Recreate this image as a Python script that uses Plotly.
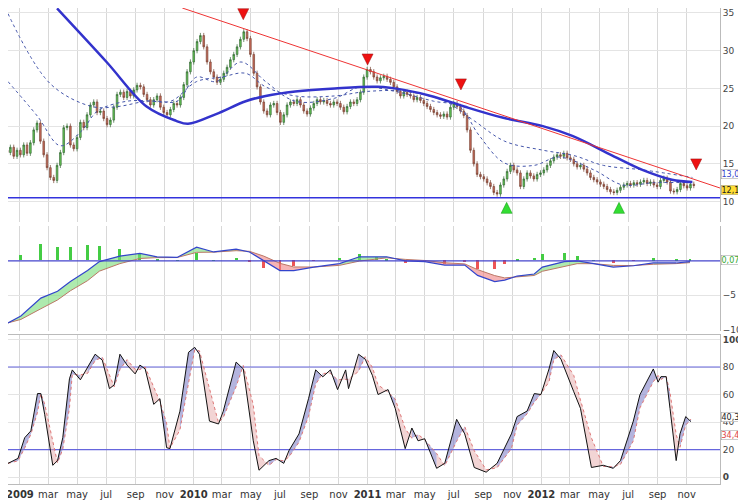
import pandas as pd
import plotly.graph_objects as go

# weekly closes, Dec 2008 .. Nov 2012
closes = [
    16.5, 17.2, 16.0, 16.8,
    16.2, 17.5, 16.4, 17.8, 19.5, 20.4, 18.0, 16.2, 14.5, 13.2, 12.8, 14.8, 16.5,
    19.8, 20.0, 17.5, 17.0, 18.5, 20.5, 19.8, 21.5, 22.8, 23.2, 21.8, 22.0, 21.0,
    20.2, 20.8, 22.5, 24.2, 24.5, 23.8, 24.6, 24.0, 24.8, 25.4, 25.2, 24.2, 23.5,
    22.8, 23.5, 24.0, 22.5, 21.8, 21.5, 22.2, 23.0, 22.8, 23.8, 25.5, 27.2, 28.5,
    30.0, 31.2, 32.0, 30.5, 28.5, 27.2, 26.5, 25.8, 26.2, 27.0, 27.8, 28.8, 29.5,
    30.5, 31.5, 32.5, 31.6, 29.5, 27.0, 25.2, 23.2, 22.0, 21.5, 22.8, 23.0, 21.8,
    20.5, 21.5, 22.8, 23.2, 23.0, 23.5, 22.8, 22.0, 21.6, 22.4, 23.0, 23.5, 23.2,
    23.4, 23.0, 22.8, 23.2, 23.0, 22.5, 21.9, 22.6, 23.2, 23.0, 23.5, 24.5, 26.5, 27.5,
    27.2, 26.5, 26.0, 26.4, 26.6, 26.2, 25.8, 25.2, 24.6, 24.0, 24.5, 24.2,
    24.0, 23.5, 23.8, 23.4, 23.0, 22.6, 22.2, 21.8, 21.5, 21.3, 21.6, 21.2, 22.5,
    23.0, 22.6, 22.0, 21.4, 19.5, 16.8, 15.0, 13.6, 13.3, 13.0, 12.5, 12.0, 11.2, 11.0,
    12.2, 13.0, 14.0, 14.8, 14.2, 13.8, 12.0, 13.0, 13.8, 13.4, 13.0, 13.6, 13.8,
    14.2, 14.8, 15.4, 15.9, 16.2, 16.0, 16.4, 15.8, 15.6, 15.0, 14.6, 14.8, 14.3,
    13.8, 13.2, 12.9, 12.6, 12.3, 12.0, 11.6, 11.3, 11.2, 11.5, 11.9, 12.2, 12.4,
    12.2, 12.5, 12.3, 12.6, 12.8, 12.4, 12.6, 12.2, 12.0, 12.8, 13.1, 12.6, 11.4,
    11.3, 11.6, 12.4, 12.1, 11.8, 12.3, 12.12,
]
first_open = 16.8

ma_long_dates = ["2009-03-20", "2009-07-02", "2009-09-24", "2009-11-25", "2009-12-20",
                 "2010-02-17", "2010-04-20", "2010-06-01", "2010-08-02", "2010-10-24",
                 "2011-01-22", "2011-03-18", "2011-05-20", "2011-07-23", "2011-10-13",
                 "2012-01-04", "2012-03-06", "2012-05-29", "2012-07-31", "2012-10-01",
                 "2012-11-13"]
ma_long = [35.6, 28.5, 22.6, 20.7, 20.3, 21.6, 23.3, 24.0, 24.6, 25.0,
           25.2, 24.8, 23.9, 22.6, 21.1, 20.0, 18.7, 16.1, 14.2, 12.9, 12.6]

ma_mid_dates = ["2008-12-07", "2009-03-06", "2009-06-01", "2009-07-26", "2009-09-24",
                "2009-11-14", "2010-01-07", "2010-03-01", "2010-04-20", "2010-06-01",
                "2010-08-02", "2010-10-24", "2011-01-01", "2011-03-21", "2011-06-12",
                "2011-08-13", "2011-10-16", "2012-01-05", "2012-03-09", "2012-05-10",
                "2012-08-01", "2012-11-13"]
ma_mid = [34.9, 25.6, 22.6, 22.6, 23.3, 23.3, 25.9, 26.5, 27.0, 25.2, 24.0,
          24.0, 24.6, 24.6, 23.3, 20.7, 18.0, 16.8, 16.1, 14.8, 14.2, 13.2]

ma_short_dates = ["2008-12-07", "2009-02-07", "2009-03-27", "2009-05-11", "2009-06-13",
                  "2009-08-14", "2009-10-16", "2009-11-27", "2010-01-07", "2010-02-17",
                  "2010-04-10", "2010-06-01", "2010-08-02", "2010-10-24", "2010-12-17",
                  "2011-02-28", "2011-05-20", "2011-07-12", "2011-08-24", "2011-10-16",
                  "2011-12-17", "2012-02-06", "2012-04-20", "2012-06-20", "2012-08-23",
                  "2012-11-13"]
ma_short = [25.9, 21.3, 17.4, 19.4, 22.0, 23.3, 23.3, 23.3, 26.5, 25.9, 28.5, 25.9, 23.3,
            23.7, 25.2, 24.6, 23.3, 22.6, 18.7, 15.1, 14.8, 15.9, 14.2, 12.2, 12.5, 12.5]

trend_dates = ["2009-12-08", "2013-01-10"]
trend_vals = [35.65, 11.8]
support_level = 10.5

sell_dates = ["2010-04-15", "2011-01-01", "2011-07-16", "2012-11-21"]
sell_vals = [34.1, 28.1, 24.8, 14.2]
buy_dates = ["2011-10-20", "2012-06-12"]
buy_vals = [9.9, 9.9]

macd_dates = ["2008-12-07", "2009-01-03", "2009-02-14", "2009-03-21", "2009-04-17",
              "2009-05-23", "2009-06-17", "2009-07-30", "2009-09-10", "2009-10-16",
              "2009-11-27", "2010-01-07", "2010-02-12", "2010-03-31", "2010-04-28",
              "2010-05-28", "2010-07-01", "2010-07-30", "2010-09-10", "2010-11-03",
              "2010-12-15", "2011-01-20", "2011-02-10", "2011-03-21", "2011-05-01",
              "2011-06-12", "2011-07-24", "2011-08-20", "2011-09-25", "2011-10-16",
              "2011-11-11", "2011-12-17", "2012-01-03", "2012-02-18", "2012-03-16",
              "2012-04-20", "2012-05-31", "2012-07-12", "2012-08-23", "2012-10-10",
              "2012-11-08"]
macd = [-9.0, -8.0, -5.4, -4.4, -3.0, -1.4, -0.1, 0.7, 1.1, 0.6, 0.5, 2.0, 1.3, 1.7,
        1.3, 0.0, -1.4, -1.4, -0.9, -0.4, 0.6, 0.6, 0.6, 0.0, -0.1, -0.6, -0.6, -2.1,
        -3.0, -2.8, -2.2, -1.9, -0.9, -0.1, 0.0, -0.4, -0.9, -0.7, -0.3, -0.3, -0.1]

stoch_dates = ["2008-12-07", "2008-12-28", "2009-01-11", "2009-01-24", "2009-02-07",
               "2009-02-14", "2009-02-22", "2009-03-11", "2009-03-21", "2009-04-01",
               "2009-04-15", "2009-04-21", "2009-05-08", "2009-05-23", "2009-06-08",
               "2009-06-23", "2009-07-08", "2009-07-18", "2009-07-30", "2009-08-14",
               "2009-08-31", "2009-09-10", "2009-09-21", "2009-10-09", "2009-10-22",
               "2009-11-05", "2009-11-12", "2009-12-03", "2009-12-21", "2010-01-03",
               "2010-01-13", "2010-02-03", "2010-02-22", "2010-03-04", "2010-03-31",
               "2010-04-15", "2010-05-06", "2010-05-18", "2010-06-08", "2010-06-23",
               "2010-07-09", "2010-07-20", "2010-08-10", "2010-08-30", "2010-09-14",
               "2010-09-29", "2010-10-15", "2010-10-30", "2010-11-16", "2010-11-22",
               "2010-12-13", "2010-12-27", "2011-01-11", "2011-01-23", "2011-02-13",
               "2011-02-28", "2011-03-21", "2011-04-04", "2011-04-17", "2011-05-01",
               "2011-05-26", "2011-06-12", "2011-07-07", "2011-07-24", "2011-08-13",
               "2011-09-07", "2011-09-30", "2011-10-30", "2011-11-11", "2011-12-02",
               "2011-12-17", "2011-12-31", "2012-01-17", "2012-01-27", "2012-02-11",
               "2012-03-09", "2012-03-23", "2012-04-15", "2012-05-10", "2012-05-31",
               "2012-06-15", "2012-07-12", "2012-07-26", "2012-08-23", "2012-09-02",
               "2012-09-08", "2012-09-19", "2012-09-27", "2012-10-10", "2012-10-18",
               "2012-10-30", "2012-11-10"]
stoch_k = [10, 13.6, 28.6, 33.6, 60.7, 60.7, 45.7, 8.6, 12, 28.6, 71.4, 77.9, 70.7, 80,
           89.3, 85, 64.3, 67, 89.3, 81.4, 75, 81.4, 78.6, 52.9, 57, 21.4, 20.7, 47.9,
           90.7, 94.3, 89.3, 40.7, 38.6, 47.9, 83.6, 78.6, 26.4, 5, 12, 13.6, 10, 19.3,
           31.4, 57, 77.9, 72.9, 77.9, 63.6, 77.9, 64.3, 89.3, 85.7, 74, 60, 63.6, 50,
           20.7, 35.7, 26.4, 27.9, 6.4, 10, 42, 31.4, 7, 3.6, 10, 31.4, 44, 48, 60.7, 60,
           78.6, 92, 85.7, 62, 50, 7, 8.6, 6.4, 12, 40.7, 60, 78.6, 69, 73, 73, 50, 12,
           31.4, 44, 40.3]

tick_dates = pd.date_range("2009-01-01", "2012-11-01", freq="2MS")
tick_names = ["mar", "may", "jul", "sep", "nov"]

# ---- derived series
dates = pd.date_range("2008-12-05", periods=len(closes), freq="7D")
opens = [first_open] + closes[:-1]
highs = [max(o, c) + 0.35 for o, c in zip(opens, closes)]
lows = [min(o, c) - 0.35 for o, c in zip(opens, closes)]

macd_s = pd.Series(macd)
signal = macd_s.ewm(span=3, adjust=False).mean()
hist = (macd_s - signal) * 1.5
k_s = pd.Series(stoch_k)
stoch_d = k_s.rolling(2, min_periods=1).mean()

tick_text = []
for d in tick_dates:
    tick_text.append("<b>%d</b>" % d.year if d.month == 1 else tick_names[(d.month - 3) // 2])

x_end = pd.Timestamp("2013-01-10")
fig = go.Figure()


def add_band(x, a, b, up_col, down_col, yaxis):
    # fill between a and b, colour by which one is on top
    x = list(x)
    a = list(a)
    b = list(b)
    start = 0
    for i in range(1, len(x) + 1):
        if i == len(x) or (a[i] >= b[i]) != (a[start] >= b[start]):
            end = min(i + 1, len(x))
            col = up_col if a[start] >= b[start] else down_col
            fig.add_trace(go.Scatter(x=x[start:end], y=b[start:end], mode="lines",
                                     line=dict(width=0), yaxis=yaxis,
                                     showlegend=False, hoverinfo="skip"))
            fig.add_trace(go.Scatter(x=x[start:end], y=a[start:end], mode="lines",
                                     line=dict(width=0), fill="tonexty",
                                     fillcolor=col, yaxis=yaxis, showlegend=False,
                                     hoverinfo="skip"))
            start = i


# price panel
fig.add_trace(go.Scatter(x=[dates[0], x_end], y=[support_level] * 2,
                         mode="lines", line=dict(color="#3333dd", width=1.5), showlegend=False))
fig.add_trace(go.Scatter(x=ma_short_dates, y=ma_short, mode="lines",
                         line=dict(color="#4455aa", width=1, dash="dot", shape="spline"),
                         showlegend=False))
fig.add_trace(go.Scatter(x=ma_mid_dates, y=ma_mid, mode="lines",
                         line=dict(color="#4455aa", width=1, dash="dot", shape="spline"),
                         showlegend=False))
fig.add_trace(go.Candlestick(x=dates, open=opens, high=highs, low=lows, close=closes,
                             whiskerwidth=0,
                             increasing=dict(fillcolor="#66cc55", line=dict(color="#336633", width=0.7)),
                             decreasing=dict(fillcolor="#cc6b5a", line=dict(color="#774433", width=0.7)),
                             showlegend=False))
fig.add_trace(go.Scatter(x=ma_long_dates, y=ma_long, mode="lines",
                         line=dict(color="#3333cc", width=2.5, shape="spline"), showlegend=False))
fig.add_trace(go.Scatter(x=trend_dates, y=trend_vals, mode="lines",
                         line=dict(color="#ee3333", width=1), showlegend=False))
fig.add_trace(go.Scatter(x=sell_dates, y=sell_vals, mode="markers",
                         marker=dict(symbol="arrow-down", size=11, color="#ee1111",
                                     line=dict(color="#991111", width=0.5)), showlegend=False))
fig.add_trace(go.Scatter(x=buy_dates, y=buy_vals, mode="markers",
                         marker=dict(symbol="arrow-up", size=11, color="#33dd33",
                                     line=dict(color="#119911", width=0.5)), showlegend=False))

# MACD panel
fig.add_trace(go.Bar(x=macd_dates, y=hist, yaxis="y2", width=6 * 86400000,
                     marker=dict(color=["#44cc44" if h >= 0 else "#ee5555" for h in hist],
                                 line=dict(width=0)),
                     showlegend=False))
add_band(macd_dates, macd, signal, "rgba(120,220,120,0.6)", "rgba(240,130,130,0.6)", "y2")
fig.add_trace(go.Scatter(x=macd_dates, y=signal, mode="lines", yaxis="y2",
                         line=dict(color="#bb7766", width=1), showlegend=False))
fig.add_trace(go.Scatter(x=macd_dates, y=macd, mode="lines", yaxis="y2",
                         line=dict(color="#3344cc", width=1.2), showlegend=False))
fig.add_trace(go.Scatter(x=[dates[0], x_end], y=[0, 0], mode="lines",
                         yaxis="y2", line=dict(color="#4444cc", width=1.2), showlegend=False))

# stochastic panel
for lvl in (20, 80):
    fig.add_trace(go.Scatter(x=[dates[0], x_end], y=[lvl, lvl], mode="lines",
                             yaxis="y3", line=dict(color="#6666dd", width=1.2), showlegend=False))
add_band(stoch_dates, stoch_k, stoch_d, "rgba(130,130,200,0.6)", "rgba(230,170,170,0.5)", "y3")
fig.add_trace(go.Scatter(x=stoch_dates, y=stoch_d, mode="lines", yaxis="y3",
                         line=dict(color="#dd7777", width=1, dash="dot"), showlegend=False))
fig.add_trace(go.Scatter(x=stoch_dates, y=stoch_k, mode="lines", yaxis="y3",
                         line=dict(color="#111111", width=1), showlegend=False))

grid = dict(showgrid=True, gridcolor="#e4e4e4", side="right", ticks="",
            tickfont=dict(family="DejaVu Sans", size=9, color="#444"),
            showline=True, linecolor="#bbbbbb", mirror=True, zeroline=False, anchor="x")
fig.update_layout(
    width=746, height=500, paper_bgcolor="white", plot_bgcolor="white",
    margin=dict(l=0, r=34, t=0, b=24, autoexpand=False), bargap=0,
    xaxis=dict(range=[pd.Timestamp("2008-12-07"), x_end], anchor="y3",
               tickvals=list(tick_dates), ticktext=tick_text, showgrid=True,
               gridcolor="#d8d8d8", rangeslider=dict(visible=False), ticks="",
               ticklabeloverflow="allow", ticklabelstandoff=1,
               tickfont=dict(family="DejaVu Sans", size=10, color="#333"),
               showline=True, linecolor="#bbbbbb", mirror=True),
    yaxis=dict(domain=[0.55, 1], range=[7.27, 35.65], tickvals=[10, 15, 20, 25, 30, 35], **grid),
    yaxis2=dict(domain=[0.322, 0.541], range=[-10.14, 5], tickvals=[-10, -5], **grid),
    yaxis3=dict(domain=[0, 0.314], range=[-5, 103.6], tickvals=[0, 20, 40, 60, 80, 100],
                ticktext=["<b>0</b>", "20", "40", "60", "80", "<b>100</b>"], **grid),
)

labels = [("13,034", 13.03, "y", "#3344cc", "white"), ("12,120", 12.12, "y", "#222", "#ffdd33"),
          ("0,0757", 0.0757, "y2", "#33aa33", "white"), ("40,307", 40.3, "y3", "#222", "white"),
          ("34,45", 34.45, "y3", "#dd4444", "white")]
for txt, val, ax, col, bg in labels:
    shift = {"13,034": 5, "12,120": -4, "40,307": 5, "34,45": -5}.get(txt, 0)
    fig.add_annotation(xref="paper", x=1.0, yref=ax, y=val, text=txt, showarrow=False,
                       xanchor="left", xshift=1, yshift=shift, bgcolor=bg, bordercolor="#999",
                       borderwidth=0.5, borderpad=0, font=dict(family="DejaVu Sans", size=8, color=col))

fig.write_html("out.html")
